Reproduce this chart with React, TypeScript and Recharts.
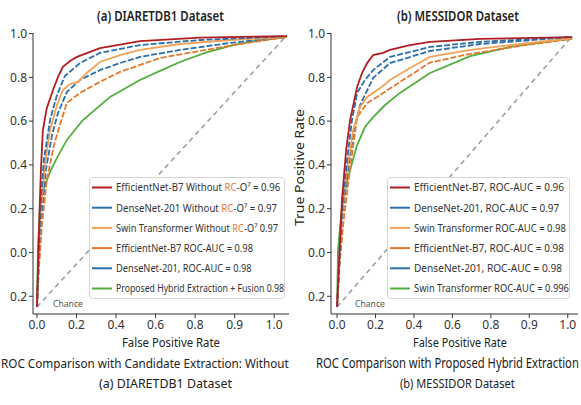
import React, { useLayoutEffect, useRef, useState } from "react";
import { LineChart, Line, XAxis, YAxis, Legend } from "recharts";

// axis ticks (the source figure labels them unevenly, so positions and labels are kept apart)
const xTickLabels = ["0.0", "0.2", "0.4", "0.6", "0.8", "0.9", "1.0"];
const yTickLabels = ["0.2", "0.0", "0.2", "0.4", "0.6", "0.8", "1.0"];
const xTicksA = [0, 0.16, 0.32, 0.48, 0.64, 0.8, 0.96];
const xTicksB = [0, 0.165, 0.33, 0.495, 0.66, 0.825, 0.99];
const yTicks = [0.04, 0.203, 0.366, 0.529, 0.692, 0.855, 1.018];

const chanceFpr = [0, 1];
const chanceTpr = [0, 1];

// (a) DIARETDB1
const effNoRcFprA = [0, 0.004, 0.008, 0.016, 0.024, 0.04, 0.065, 0.085, 0.105, 0.134, 0.162, 0.255, 0.417, 0.66, 1.012];
const effNoRcTprA = [0, 0.138, 0.287, 0.51, 0.659, 0.741, 0.808, 0.856, 0.894, 0.916, 0.931, 0.964, 0.99, 1.003, 1.008];
const denseNoRcFprA = [0, 0.008, 0.016, 0.028, 0.053, 0.081, 0.113, 0.174, 0.255, 0.417, 0.66, 1.012];
const denseNoRcTprA = [0, 0.212, 0.398, 0.547, 0.696, 0.789, 0.86, 0.908, 0.946, 0.975, 0.994, 1.008];
const swinNoRcFprA = [0, 0.008, 0.016, 0.032, 0.053, 0.081, 0.105, 0.134, 0.166, 0.206, 0.255, 0.336, 0.417, 0.579, 0.781, 1.012];
const swinNoRcTprA = [0, 0.194, 0.361, 0.529, 0.659, 0.752, 0.808, 0.83, 0.838, 0.875, 0.912, 0.938, 0.957, 0.979, 0.994, 1.005];
const effAucFprA = [0, 0.008, 0.02, 0.04, 0.069, 0.093, 0.121, 0.174, 0.255, 0.336, 0.417, 0.498, 0.66, 0.822, 1.012];
const effAucTprA = [0, 0.145, 0.305, 0.473, 0.603, 0.678, 0.76, 0.797, 0.838, 0.875, 0.901, 0.927, 0.953, 0.979, 1.005];
const denseAucFprA = [0, 0.008, 0.02, 0.036, 0.061, 0.085, 0.121, 0.174, 0.255, 0.336, 0.417, 0.579, 0.781, 1.012];
const denseAucTprA = [0, 0.168, 0.343, 0.51, 0.64, 0.722, 0.8, 0.845, 0.882, 0.908, 0.931, 0.957, 0.983, 1.005];
const hybridFprA = [0, 0.004, 0.012, 0.028, 0.053, 0.081, 0.121, 0.186, 0.296, 0.417, 0.498, 0.579, 0.68, 0.794, 0.903, 1.012];
const hybridTprA = [0, 0.212, 0.372, 0.443, 0.503, 0.555, 0.622, 0.696, 0.782, 0.845, 0.879, 0.912, 0.946, 0.975, 0.994, 1.005];

// (b) MESSIDOR
const effFprB = [0, 0.009, 0.021, 0.039, 0.056, 0.086, 0.107, 0.129, 0.155, 0.197, 0.227, 0.313, 0.399, 0.614, 1.009];
const effTprB = [0, 0.175, 0.398, 0.585, 0.696, 0.819, 0.871, 0.908, 0.938, 0.946, 0.957, 0.975, 0.987, 0.998, 1.005];
const denseFprB = [0, 0.009, 0.021, 0.043, 0.064, 0.086, 0.12, 0.155, 0.227, 0.399, 0.614, 1.009];
const denseTprB = [0, 0.156, 0.361, 0.547, 0.696, 0.797, 0.845, 0.882, 0.931, 0.968, 0.987, 1.005];
const swinFprB = [0, 0.009, 0.021, 0.043, 0.069, 0.099, 0.129, 0.185, 0.227, 0.313, 0.399, 0.571, 0.785, 1.009];
const swinTprB = [0, 0.168, 0.343, 0.51, 0.659, 0.745, 0.782, 0.815, 0.845, 0.89, 0.931, 0.957, 0.979, 1.001];
const eff2FprB = [0, 0.009, 0.026, 0.052, 0.086, 0.129, 0.172, 0.27, 0.399, 0.571, 0.785, 1.009];
const eff2TprB = [0, 0.138, 0.305, 0.491, 0.707, 0.759, 0.782, 0.838, 0.91, 0.942, 0.972, 0.998];
const dense2FprB = [0, 0.009, 0.021, 0.047, 0.073, 0.099, 0.155, 0.227, 0.399, 0.614, 1.009];
const dense2TprB = [0, 0.145, 0.324, 0.51, 0.659, 0.752, 0.853, 0.908, 0.953, 0.979, 1.005];
const swin2FprB = [0, 0.004, 0.021, 0.039, 0.056, 0.086, 0.12, 0.155, 0.206, 0.27, 0.399, 0.571, 0.742, 1.009];
const swin2TprB = [0, 0.212, 0.372, 0.454, 0.51, 0.603, 0.67, 0.707, 0.752, 0.797, 0.871, 0.934, 0.968, 1.001];

const legendNamesA = [
  "EfficientNet-B7 Without RC-O⁷ = 0.96",
  "DenseNet-201 Without RC-O⁷ = 0.97",
  "Swin Transformer Without RC-O⁷  0.97",
  "EfficientNet-B7 ROC-AUC = 0.98",
  "DenseNet-201, ROC-AUC = 0.98",
  "Proposed Hybrid Extraction + Fusion 0.98",
];
const legendNamesB = [
  "EfficientNet-B7, ROC-AUC =  0.96",
  "DenseNet-201, ROC-AUC =  0.97",
  "Swin Transformer ROC-AUC = 0.98",
  "EfficientNet-B7, ROC-AUC =  0.98",
  "DenseNet-201, ROC-AUC =  0.98",
  "Swin Transformer ROC-AUC = 0.996",
];

// rendered widths of the squeezed legend texts in the figure (px)
const legendTextWidthA = [164, 161, 162, 137, 136, 168];
const legendTextWidthB = [150, 145, 152, 150, 148, 155];

const RED = "#b01e23";
const BLUE = "#2b6ea8";
const LIGHT_ORANGE = "#f2a25a";
const ORANGE = "#e5782c";
const GREEN = "#52ae3f";
const RC_COLOR = "#e8793a";

const pts = (f: number[], t: number[]) => f.map((fpr, i) => ({ fpr, tpr: t[i] }));

// legend order; drawn in reverse so red ends on top
const seriesA = [
  { name: legendNamesA[0], color: RED, dash: undefined, data: pts(effNoRcFprA, effNoRcTprA) },
  { name: legendNamesA[1], color: BLUE, dash: "6 2", data: pts(denseNoRcFprA, denseNoRcTprA) },
  { name: legendNamesA[2], color: LIGHT_ORANGE, dash: undefined, data: pts(swinNoRcFprA, swinNoRcTprA) },
  { name: legendNamesA[3], color: ORANGE, dash: "6 2", data: pts(effAucFprA, effAucTprA) },
  { name: legendNamesA[4], color: BLUE, dash: "6 2", data: pts(denseAucFprA, denseAucTprA) },
  { name: legendNamesA[5], color: GREEN, dash: undefined, data: pts(hybridFprA, hybridTprA) },
];
const seriesB = [
  { name: legendNamesB[0], color: RED, dash: undefined, data: pts(effFprB, effTprB) },
  { name: legendNamesB[1], color: BLUE, dash: "6 2", data: pts(denseFprB, denseTprB) },
  { name: legendNamesB[2], color: LIGHT_ORANGE, dash: undefined, data: pts(swinFprB, swinTprB) },
  { name: legendNamesB[3], color: ORANGE, dash: "6 2", data: pts(eff2FprB, eff2TprB) },
  { name: legendNamesB[4], color: BLUE, dash: "6 2", data: pts(dense2FprB, dense2TprB) },
  { name: legendNamesB[5], color: GREEN, dash: undefined, data: pts(swin2FprB, swin2TprB) },
];

const FONT = "'Noto Sans', 'DejaVu Sans', sans-serif";

function nameWithRc(name: string) {
  const parts = name.split("RC");
  return parts.map((p, i) => (
    <React.Fragment key={i}>
      {i > 0 && <tspan fill={RC_COLOR}>RC</tspan>}
      {p}
    </React.Fragment>
  ));
}

// text squeezed horizontally to a given width (the figure uses a narrow face)
function Squeezed({ x, y, width, size, children, weight = 400, fill = "#222", rotate = false }: any) {
  const ref = useRef<SVGTextElement>(null);
  const [k, setK] = useState(1);
  useLayoutEffect(() => {
    const el = ref.current;
    if (!el) return;
    const w = el.getComputedTextLength();
    if (w > 0) setK(width / w);
  }, [width, children]);
  const squeeze = `translate(${x} 0) scale(${k.toFixed(4)} 1) translate(${-x} 0)`;
  return (
    <text
      ref={ref}
      x={x}
      y={y}
      fontSize={size}
      fontWeight={weight}
      fill={fill}
      fontFamily={FONT}
      transform={rotate ? `rotate(-90 ${x} ${y}) ${squeeze}` : squeeze}
    >
      {children}
    </text>
  );
}

function LegendBox({ items, width, textWidths }: { items: { name: string; color: string }[]; width: number; textWidths: number[] }) {
  const rowH = 20.2;
  const h = Math.round(items.length * rowH) + 1;
  return (
    <svg width={width} height={h} style={{ display: "block" }}>
      <rect x={0.5} y={0.5} width={width - 1} height={h - 1} rx={3} fill="#fff" stroke="#d6d6d6" />
      {items.map((it, i) => {
        const cy = 10.5 + i * rowH;
        return (
          <g key={i}>
            <line x1={3} x2={23} y1={cy} y2={cy} stroke={it.color} strokeWidth={2} />
            <Squeezed x={27} y={cy + 4} width={textWidths[i]} size={11} fill="#333">
              {nameWithRc(it.name)}
            </Squeezed>
          </g>
        );
      })}
    </svg>
  );
}

type PanelProps = {
  series: typeof seriesA;
  xTicks: number[];
  xDomain: [number, number];
  width: number;
  yAxisWidth: number;
  right: number;
  legendLeft: number;
  legendWidth: number;
  legendTextWidths: number[];
};

function Panel({ series, xTicks, xDomain, width, yAxisWidth, right, legendLeft, legendWidth, legendTextWidths }: PanelProps) {
  const tickStyle = { fontSize: 12, fill: "#333", fontFamily: FONT };
  return (
    <LineChart width={width} height={354} margin={{ top: 33, right, bottom: 0, left: 0 }}>
      <XAxis
        dataKey="fpr"
        type="number"
        domain={xDomain}
        ticks={xTicks}
        interval={0}
        tickFormatter={(_v: number, i: number) => xTickLabels[i]}
        tick={tickStyle}
        tickSize={4}
        height={40}
        axisLine={{ stroke: "#333" }}
        tickLine={{ stroke: "#333" }}
      />
      <YAxis
        dataKey="tpr"
        type="number"
        domain={[-0.026, 1.02]}
        ticks={yTicks}
        interval={0}
        tickFormatter={(_v: number, i: number) => yTickLabels[i]}
        tick={tickStyle}
        tickSize={4}
        width={yAxisWidth}
        axisLine={{ stroke: "#333" }}
        tickLine={{ stroke: "#333" }}
      />
      <XAxis xAxisId="top" orientation="top" type="number" domain={[0, 1]} tick={false} tickLine={false} height={0} axisLine={{ stroke: "#333" }} />
      <YAxis yAxisId="right" orientation="right" type="number" domain={[0, 1]} tick={false} tickLine={false} width={0} axisLine={{ stroke: "#333" }} />
      <Legend
        layout="vertical"
        align="center"
        verticalAlign="middle"
        wrapperStyle={{ left: legendLeft, top: 177, width: legendWidth }}
        content={() => <LegendBox items={series} width={legendWidth} textWidths={legendTextWidths} />}
      />
      <Line
        data={pts(chanceFpr, chanceTpr)}
        dataKey="tpr"
        stroke="#a0a0a0"
        strokeWidth={1.6}
        strokeDasharray="5 4"
        dot={false}
        legendType="none"
        isAnimationActive={false}
      />
      {[...series].reverse().map((s, i) => (
        <Line
          key={i}
          data={s.data}
          dataKey="tpr"
          name={s.name}
          stroke={s.color}
          strokeWidth={1.8}
          strokeDasharray={s.dash}
          dot={false}
          isAnimationActive={false}
        />
      ))}
    </LineChart>
  );
}

export default function App() {
  return (
    <div style={{ position: "absolute", left: 0, top: 0, width: 581, height: 405, background: "#fff", overflow: "hidden" }}>
      <div style={{ position: "absolute", left: 0, top: 0 }}>
        <Panel
          series={seriesA}
          xTicks={xTicksA}
          xDomain={[-0.016, 1.02]}
          width={292}
          yAxisWidth={33}
          right={3}
          legendLeft={89}
          legendWidth={196}
          legendTextWidths={legendTextWidthA}
        />
      </div>
      <div style={{ position: "absolute", left: 290, top: 0 }}>
        <Panel
          series={seriesB}
          xTicks={xTicksB}
          xDomain={[-0.026, 1.034]}
          width={290}
          yAxisWidth={41}
          right={2}
          legendLeft={97}
          legendWidth={183}
          legendTextWidths={legendTextWidthB}
        />
      </div>
      <svg width={581} height={405} style={{ position: "absolute", left: 0, top: 0, pointerEvents: "none" }}>
        <Squeezed x={97} y={21} width={127} size={14} weight={600}>(a) DIARETDB1 Dataset</Squeezed>
        <Squeezed x={397} y={21} width={122} size={14} weight={600}>(b) MESSIDOR Dataset</Squeezed>
        <Squeezed x={122} y={347} width={98} size={12.5}>False Positive Rate</Squeezed>
        <Squeezed x={413} y={347} width={94} size={12.5}>False Positive Rate</Squeezed>
        <Squeezed x={304} y={226} width={117} size={12.5} rotate>True Positive Rate</Squeezed>
        <Squeezed x={53} y={307} width={30} size={9.5} fill="#555">Chance</Squeezed>
        <Squeezed x={355} y={307} width={30} size={9.5} fill="#555">Chance</Squeezed>
        <Squeezed x={1} y={368} width={288} size={13.5}>ROC Comparison with Candidate Extraction: Without</Squeezed>
        <Squeezed x={316} y={368} width={263} size={13.5}>ROC Comparison with Proposed Hybrid Extraction</Squeezed>
        <Squeezed x={99} y={388} width={133} size={13.5}>(a) DIARETDB1 Dataset</Squeezed>
        <Squeezed x={400} y={388} width={115} size={13.5}>(b) MESSIDOR Dataset</Squeezed>
      </svg>
    </div>
  );
}
